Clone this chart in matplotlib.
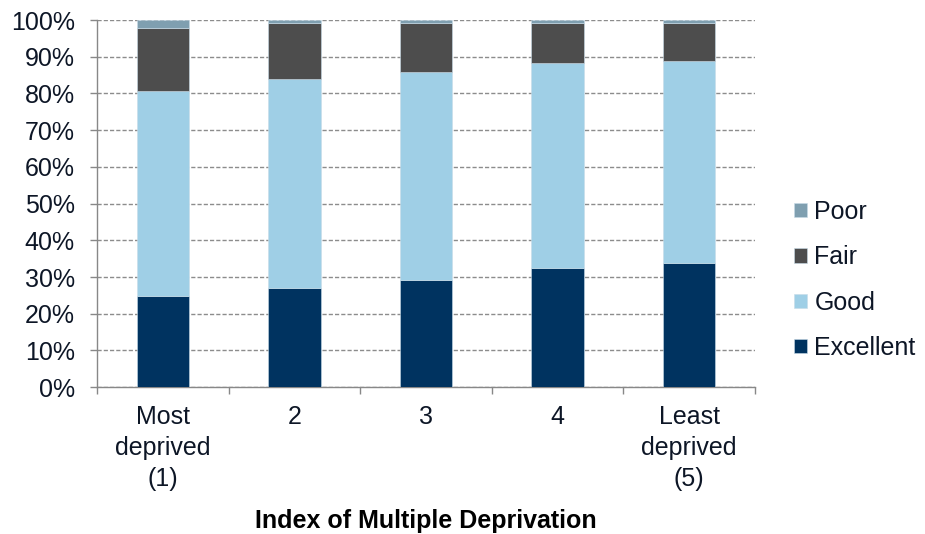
import matplotlib.pyplot as plt
import numpy as np

plt.rcParams['font.family'] = ['Liberation Sans', 'DejaVu Sans']
plt.rcParams['text.color'] = '#0d1626'
plt.rcParams['xtick.labelcolor'] = '#0d1626'
plt.rcParams['ytick.labelcolor'] = '#0d1626'

categories = ['Most\ndeprived\n(1)', '2', '3', '4', 'Least\ndeprived\n(5)']
excellent = [24.7, 27.0, 29.1, 32.4, 33.8]
good = [56.0, 56.8, 56.8, 55.8, 55.1]
fair = [17.2, 15.3, 13.2, 10.9, 10.2]
poor = [2.1, 0.9, 0.9, 0.9, 0.9]

series = [('Excellent', excellent, '#003360'),
          ('Good', good, '#9fcfe6'),
          ('Fair', fair, '#4d4d4d'),
          ('Poor', poor, '#7f9fb0')]

fig = plt.figure(figsize=(9.25, 5.34), dpi=100)
ax = fig.add_axes([0.105, 0.275, 0.711, 0.6875])

x = np.arange(len(categories))
bottom = np.zeros(len(categories))
handles = []
for name, vals, col in series:
    b = ax.bar(x, vals, 0.4, bottom=bottom, color=col, label=name, zorder=3,
               edgecolor='#c8dce8', linewidth=0.4)
    bottom += np.array(vals)
    handles.append(b)

ax.set_xlim(-0.5, len(categories) - 0.5)
ax.set_ylim(0, 100)
ax.set_yticks(np.arange(0, 101, 10))
ax.set_yticklabels([f'{v}%' for v in range(0, 101, 10)], fontsize=18)
ax.yaxis.grid(True, linestyle=(0, (3, 1.5)), color='#8c8c8c', linewidth=1, zorder=0)

ax.set_xticks(np.arange(-0.5, len(categories), 1.0))
ax.set_xticklabels([])
ax.set_xticks(x, minor=True)
ax.set_xticklabels(categories, minor=True, fontsize=18, linespacing=1.35)
ax.tick_params(axis='x', which='major', length=5, color='#888888', width=1)
ax.tick_params(axis='x', which='minor', length=0, pad=13)
ax.tick_params(axis='y', length=5, color='#888888', width=1, pad=11)

for s in ['top', 'right']:
    ax.spines[s].set_visible(False)
for s in ['left', 'bottom']:
    ax.spines[s].set_color('#888888')
    ax.spines[s].set_linewidth(1)

ax.set_xlabel('Index of Multiple Deprivation', fontsize=18, fontweight='bold', labelpad=13)

leg = ax.legend(handles[::-1], [s[0] for s in series][::-1], loc='center left',
                bbox_to_anchor=(1.06, 0.292), frameon=False, fontsize=18,
                handlelength=0.5, handleheight=0.5, labelspacing=0.85,
                handletextpad=0.3, borderpad=0, borderaxespad=0)

fig.savefig('out.png', dpi=100)
